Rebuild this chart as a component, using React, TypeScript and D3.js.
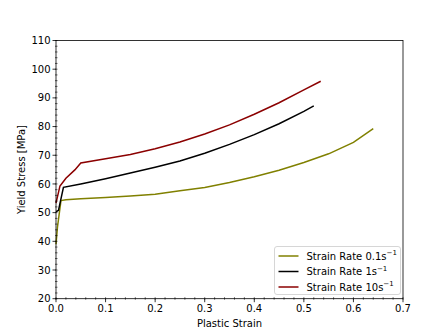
import React from "react";
import * as d3 from "d3";

const strain01 = [0, 0.003, 0.01, 0.02, 0.05, 0.1, 0.15, 0.2, 0.25, 0.3, 0.35, 0.4, 0.45, 0.5, 0.55, 0.6, 0.64];
const stress01 = [39, 45, 54.2, 54.5, 54.8, 55.3, 55.8, 56.4, 57.6, 58.8, 60.5, 62.5, 64.8, 67.5, 70.5, 74.5, 79.3];

const strain1 = [0, 0.005, 0.015, 0.05, 0.1, 0.15, 0.2, 0.25, 0.3, 0.35, 0.4, 0.45, 0.5, 0.52];
const stress1 = [50.3, 50.8, 58.8, 60, 61.8, 63.8, 65.8, 68.0, 70.7, 73.8, 77.2, 81, 85.3, 87.2];

const strain10 = [0, 0.008, 0.02, 0.038, 0.05, 0.1, 0.15, 0.2, 0.25, 0.3, 0.35, 0.4, 0.45, 0.5, 0.534];
const stress10 = [53.3, 59.3, 62, 64.9, 67.3, 68.8, 70.3, 72.3, 74.6, 77.4, 80.6, 84.3, 88.3, 92.8, 95.8];

const xTicks = [0, 0.1, 0.2, 0.3, 0.4, 0.5, 0.6, 0.7];
const yTicks = [20, 30, 40, 50, 60, 70, 80, 90, 100, 110];

const seriesNames = ["0.1", "1", "10"];
const seriesColors = ["#808000", "#000000", "#8b0000"];

export default function App() {
  const W = 448, H = 336;
  const L = 56, R = 403, T = 40.5, B = 298.7;
  const x = d3.scaleLinear().domain([0, 0.7]).range([L, R]);
  const y = d3.scaleLinear().domain([20, 110]).range([B, T]);
  const line = d3.line<[number, number]>().x(d => x(d[0])).y(d => y(d[1]));
  const data = [
    d3.zip(strain01, stress01) as [number, number][],
    d3.zip(strain1, stress1) as [number, number][],
    d3.zip(strain10, stress10) as [number, number][],
  ];
  const xMinor = d3.range(0, 0.7001, 0.02);
  const yMinor = d3.range(20, 110.001, 2);
  const font = "DejaVu Sans, sans-serif";
  const lx = 274.5, ly = 246.5;
  return (
    <svg width={W} height={H} style={{ position: "absolute", left: 0, top: 0 }} fontFamily={font}>
      <rect x={0} y={0} width={W} height={H} fill="#fff" />
      {data.map((d, i) => (
        <path key={i} d={line(d) || ""} fill="none" stroke={seriesColors[i]} strokeWidth={1.5} />
      ))}
      {/* minor ticks */}
      {xMinor.map((v, i) => (
        <line key={"xm" + i} x1={x(v)} x2={x(v)} y1={B - 1.5} y2={B + 1} stroke="#000" strokeWidth={0.6} />
      ))}
      {yMinor.map((v, i) => (
        <line key={"ym" + i} x1={L - 1} x2={L + 1.5} y1={y(v)} y2={y(v)} stroke="#000" strokeWidth={0.6} />
      ))}
      {xTicks.map((v, i) => (
        <g key={"xt" + i}>
          <line x1={x(v)} x2={x(v)} y1={B} y2={B + 3.5} stroke="#000" strokeWidth={0.8} />
          <text x={x(v)} y={312} fontSize={10} textAnchor="middle">{v.toFixed(1)}</text>
        </g>
      ))}
      {yTicks.map((v, i) => (
        <g key={"yt" + i}>
          <line x1={L - 3.5} x2={L} y1={y(v)} y2={y(v)} stroke="#000" strokeWidth={0.8} />
          <text x={L - 5.5} y={y(v) + 3.6} fontSize={10} textAnchor="end">{v}</text>
        </g>
      ))}
      <rect x={L} y={T} width={R - L} height={B - T} fill="none" stroke="#000" strokeWidth={0.8} />
      <text x={(L + R) / 2} y={327} fontSize={10} textAnchor="middle">Plastic Strain</text>
      <text transform={`translate(25,${(T + B) / 2}) rotate(-90)`} fontSize={10} textAnchor="middle">Yield Stress [MPa]</text>
      {/* legend */}
      <rect x={lx} y={ly} width={126} height={48} rx={2.5} fill="#fff" fillOpacity={0.8} stroke="#ccc" strokeWidth={0.8} />
      {seriesNames.map((n, i) => {
        const yy = ly + 9.5 + i * 15.5;
        return (
          <g key={"lg" + i}>
            <line x1={lx + 4} x2={lx + 24} y1={yy} y2={yy} stroke={seriesColors[i]} strokeWidth={1.5} />
            <text x={lx + 32} y={yy + 3.5} fontSize={10}>
              {"Strain Rate " + n + "s"}
              <tspan fontSize={7} dy={-4.5}>{"\u22121"}</tspan>
            </text>
          </g>
        );
      })}
    </svg>
  );
}
